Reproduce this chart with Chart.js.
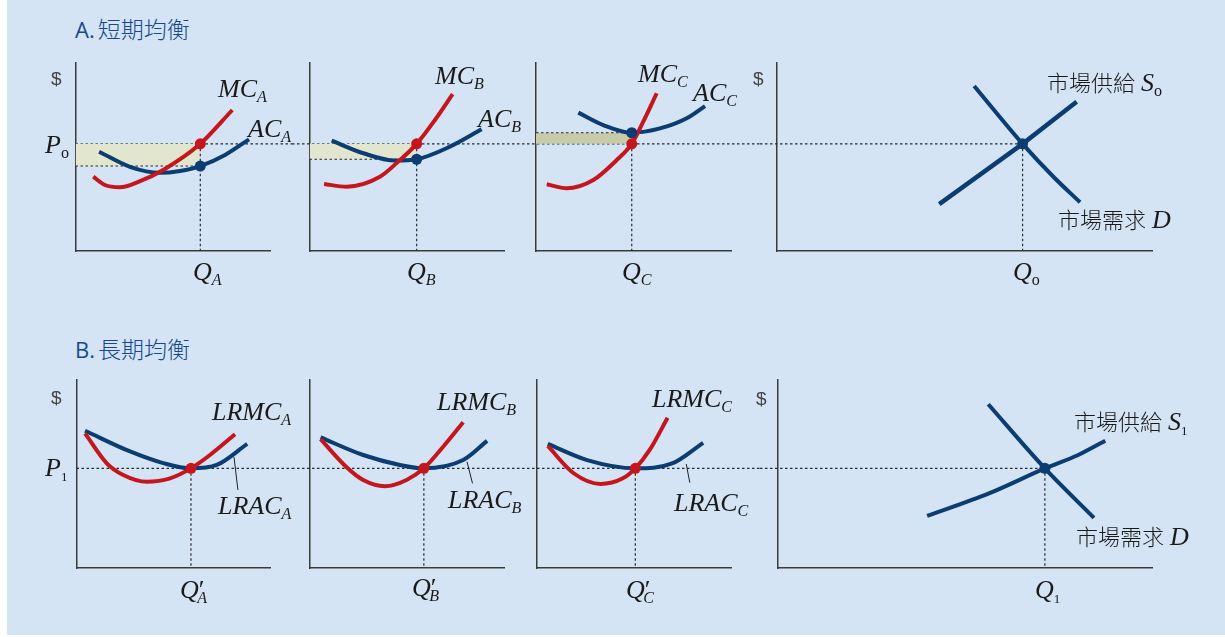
<!DOCTYPE html>
<html>
<head>
<meta charset="utf-8">
<title>短期均衡與長期均衡</title>
<script src="https://cdn.jsdelivr.net/npm/chart.js@4.4.1/dist/chart.umd.min.js"></script>
<style>
  html, body { margin: 0; padding: 0; background: #fff; }
  body { position: relative; width: 1225px; height: 637px; overflow: hidden; }
  #board { position: absolute; left: 7px; top: 0; width: 1218px; height: 635px; background: #d4e4f4; }
  .pane { position: absolute; }
  .pane canvas { display: block; }
  .colA { top: 50px; height: 212px; }
  .colB { top: 368px; height: 212px; }
  .c1 { left: 30px; width: 262px; }
  .c2 { left: 292px; width: 230px; }
  .c3 { left: 522px; width: 238px; }
  .c4 { left: 760px; width: 410px; }
  .title { position: absolute; left: 75px; font-family: "Open Sans", "Noto Sans", sans-serif; font-size: 22px; color: #17498a; line-height: 1; transform: translateY(-50%); white-space: nowrap; }
  .title .cjk { font-family: "Noto Sans CJK TC", sans-serif; font-weight: 300; font-size: 23px; margin-left: 3px; }
  .lbl { position: absolute; font-family: "Liberation Serif", "Times New Roman", serif; font-size: 26px; color: #1a1a1a; line-height: 1; transform: translateY(-50%); white-space: nowrap; }
  .lbl i { font-style: italic; }
  .lbl sub { font-size: 0.62em; vertical-align: -0.3em; line-height: 0; font-style: italic; }
  .lbl sub.u { font-style: normal; }
  .lbl sub.n { font-style: normal; font-size: 0.5em; vertical-align: -0.35em; }
  .lbl .pr { margin-right: -0.28em; }
  .lbl .cjk { font-family: "Noto Sans CJK TC", sans-serif; font-size: 22px; font-weight: 300; margin-right: 6px; }
  .dollar { position: absolute; font-family: "Liberation Sans Narrow", "Liberation Sans", sans-serif; font-size: 19px; color: #444; line-height: 1; transform: translateY(-50%); }
</style>
</head>
<body>
<div id="board"></div>

<div class="pane colA c1"><canvas id="a1"></canvas></div>
<div class="pane colA c2"><canvas id="a2"></canvas></div>
<div class="pane colA c3"><canvas id="a3"></canvas></div>
<div class="pane colA c4"><canvas id="a4"></canvas></div>
<div class="pane colB c1"><canvas id="b1"></canvas></div>
<div class="pane colB c2"><canvas id="b2"></canvas></div>
<div class="pane colB c3"><canvas id="b3"></canvas></div>
<div class="pane colB c4"><canvas id="b4"></canvas></div>

<div class="title" style="top:28px">A.<span class="cjk">短期均衡</span></div>
<div class="title" style="top:348px">B.<span class="cjk">長期均衡</span></div>

<div class="dollar" style="left:51px;top:78px">$</div>
<div class="dollar" style="left:753px;top:78px">$</div>
<div class="dollar" style="left:51px;top:397px">$</div>
<div class="dollar" style="left:756px;top:398px">$</div>

<div class="lbl" style="left:45px;top:145px"><i>P</i><sub class="u">o</sub></div>
<div class="lbl" style="left:218px;top:89px"><i>MC</i><sub>A</sub></div>
<div class="lbl" style="left:248px;top:129px"><i>AC</i><sub>A</sub></div>
<div class="lbl" style="left:193px;top:272px"><i>Q</i><sub>A</sub></div>
<div class="lbl" style="left:435px;top:76px"><i>MC</i><sub>B</sub></div>
<div class="lbl" style="left:478px;top:119px"><i>AC</i><sub>B</sub></div>
<div class="lbl" style="left:407px;top:272px"><i>Q</i><sub>B</sub></div>
<div class="lbl" style="left:638px;top:74px"><i>MC</i><sub>C</sub></div>
<div class="lbl" style="left:693px;top:93px"><i>AC</i><sub>C</sub></div>
<div class="lbl" style="left:622px;top:272px"><i>Q</i><sub>C</sub></div>
<div class="lbl" style="left:1047px;top:83px"><span class="cjk">市場供給</span><i>S</i><sub class="u">o</sub></div>
<div class="lbl" style="left:1058px;top:220px"><span class="cjk">市場需求</span><i>D</i></div>
<div class="lbl" style="left:1013px;top:272px"><i>Q</i><sub class="u">o</sub></div>

<div class="lbl" style="left:45px;top:468px"><i>P</i><sub class="n">1</sub></div>
<div class="lbl" style="left:212px;top:412px"><i>LRMC</i><sub>A</sub></div>
<div class="lbl" style="left:218px;top:506px"><i>LRAC</i><sub>A</sub></div>
<div class="lbl" style="left:180px;top:590px"><i>Q</i><span class="pr">′</span><sub>A</sub></div>
<div class="lbl" style="left:437px;top:402px"><i>LRMC</i><sub>B</sub></div>
<div class="lbl" style="left:448px;top:500px"><i>LRAC</i><sub>B</sub></div>
<div class="lbl" style="left:412px;top:588px"><i>Q</i><span class="pr">′</span><sub>B</sub></div>
<div class="lbl" style="left:652px;top:399px"><i>LRMC</i><sub>C</sub></div>
<div class="lbl" style="left:674px;top:503px"><i>LRAC</i><sub>C</sub></div>
<div class="lbl" style="left:626px;top:590px"><i>Q</i><span class="pr">′</span><sub>C</sub></div>
<div class="lbl" style="left:1074px;top:422px"><span class="cjk">市場供給</span><i>S</i><sub class="n">1</sub></div>
<div class="lbl" style="left:1076px;top:537px"><span class="cjk">市場需求</span><i>D</i></div>
<div class="lbl" style="left:1035px;top:590px"><i>Q</i><sub class="n">1</sub></div>

<script>
// ---- A. 短期均衡 (quantity 0-10, price 0-10 on every panel) ----
const priceP0 = 5.7;

const qA = 6.4;
const acLevelA = 4.52;
const mcA = [[0.91, 3.95], [1.51, 3.51], [2.28, 3.39], [3.31, 3.72], [4.5, 4.31], [6.4, 5.7], [8.04, 7.5]];
const acA = [[1.21, 5.28], [2.79, 4.48], [4.33, 4.16], [5.36, 4.26], [6.4, 4.52], [7.67, 5.11], [8.9, 5.94]];

const qB = 5.51;
const acLevelB = 4.88;
const mcB = [[0.75, 3.56], [1.91, 3.42], [3.62, 3.95], [4.65, 4.84], [5.51, 5.7], [6.45, 6.97], [7.36, 8.35]];
const acB = [[1.14, 5.87], [2.77, 5.2], [4.4, 4.81], [5.51, 4.88], [7.22, 5.55], [8.85, 6.47]];

const qC = 4.91;
const acLevelC = 6.29;
const mcC = [[0.55, 3.55], [1.57, 3.34], [2.94, 3.78], [4.14, 4.84], [4.91, 5.7], [5.5, 6.88], [6.19, 8.39]];
const acC = [[2.17, 7.36], [3.45, 6.7], [4.91, 6.29], [6.36, 6.52], [7.73, 7.06], [8.67, 7.71]];

const qMarket0 = 6.54;
const supply0 = [[4.32, 2.49], [6.54, 5.7], [7.98, 7.94]];
const demand0 = [[5.25, 8.78], [6.54, 5.7], [7.36, 3.95], [8.07, 2.59]];

// ---- B. 長期均衡 ----
const priceP1 = 5.3;

const qLA = 5.9;
const lracA = [[0.44, 7.3], [2.76, 6.2], [4.47, 5.58], [5.9, 5.3], [7.23, 5.48], [8.8, 6.6]];
const lrmcA = [[0.44, 7.16], [1.56, 5.57], [2.41, 4.95], [3.62, 4.59], [4.82, 4.77], [5.9, 5.3], [6.88, 6.01], [8.17, 7.11]];
const leaderA = [[8.12, 5.9], [8.32, 4.15]];

const qLB = 5.88;
const lracB = [[0.57, 6.95], [2.76, 6.01], [4.65, 5.48], [5.88, 5.3], [7.9, 5.74], [9.13, 6.76]];
const lrmcB = [[0.57, 6.85], [1.91, 5.36], [2.76, 4.68], [3.88, 4.35], [4.99, 4.68], [5.88, 5.3], [6.87, 6.45], [7.9, 7.75]];
const leaderB = [[8.1, 5.65], [8.38, 4.5]];

const qLC = 5.08;
const lracC = [[0.58, 6.6], [2.6, 5.74], [5.08, 5.3], [6.97, 5.56], [8.57, 6.66]];
const lrmcC = [[0.58, 6.49], [1.91, 5.04], [3.29, 4.47], [4.44, 4.77], [5.08, 5.3], [5.82, 6.28], [6.74, 7.99]];
const leaderC = [[7.7, 5.53], [7.88, 4.54]];

const qMarket1 = 7.13;
const supply1 = [[3.99, 2.77], [5.64, 3.97], [7.13, 5.3], [8.02, 6.01], [8.74, 6.77]];
const demand1 = [[5.62, 8.71], [7.13, 5.3], [8.44, 2.67]];

// 樣式
const RED = '#c4161c';
const BLUE = '#0b3d73';
const AXIS = '#3a3a3a';
const GUIDE = '#2a2a2a';
const SHADE_LIGHT = '#e3e6cf';
const SHADE_DARK = '#c8cba8';

const pts = arr => arr.map(([x, y]) => ({ x, y }));

function curve(arr, color) {
    return { data: pts(arr), borderColor: color, borderWidth: 4, pointRadius: 0,
             fill: false, cubicInterpolationMode: 'monotone' };
}
function straight(arr, color, width) {
    return { data: pts(arr), borderColor: color, borderWidth: width, pointRadius: 0,
             fill: false, tension: 0 };
}
function dot(x, y, color) {
    return { data: [{ x, y }], showLine: false, pointRadius: 5.5,
             pointBackgroundColor: color, pointBorderWidth: 0 };
}
function dashed(arr) {
    return { data: pts(arr), borderColor: GUIDE, borderWidth: 1.2, borderDash: [2.5, 2.5],
             pointRadius: 0, fill: false, tension: 0 };
}
function shade(q, top, bottom, color) {
    return { data: [{ x: 0, y: top }, { x: q, y: top }], borderWidth: 0, pointRadius: 0,
             backgroundColor: color, fill: { value: bottom }, tension: 0 };
}

// 價格虛線:穿過各圖之間的空隙
const priceLine = {
    id: 'priceLine',
    beforeDatasetsDraw(chart, args, o) {
        if (o.value == null) return;
        const { ctx, chartArea, scales } = chart;
        const y = scales.y.getPixelForValue(o.value);
        const x0 = o.fromAxis ? chartArea.left : 0;
        const x1 = o.toQ != null ? scales.x.getPixelForValue(o.toQ) : chart.width;
        ctx.save();
        ctx.strokeStyle = GUIDE;
        ctx.lineWidth = 1.2;
        ctx.setLineDash([2.5, 2.5]);
        ctx.beginPath();
        ctx.moveTo(x0, y);
        ctx.lineTo(x1, y);
        ctx.stroke();
        ctx.restore();
    }
};
Chart.register(priceLine);

function axis() {
    return { type: 'linear', min: 0, max: 10,
             ticks: { display: false },
             grid: { display: false, drawTicks: false },
             border: { display: true, color: AXIS, width: 1.5 } };
}

function makePanel(id, padding, datasets, line) {
    return new Chart(document.getElementById(id), {
        type: 'line',
        data: { datasets },
        options: {
            responsive: true,
            maintainAspectRatio: false,
            animation: false,
            events: [],
            layout: { padding },
            plugins: { legend: { display: false }, tooltip: { enabled: false }, priceLine: line },
            scales: { x: axis(), y: axis() }
        }
    });
}

// A. 短期均衡
makePanel('a1', { left: 45.5, right: 21.5, top: 13, bottom: 11 }, [
    dot(qA, priceP0, RED),
    dot(qA, acLevelA, BLUE),
    curve(mcA, RED),
    curve(acA, BLUE),
    dashed([[qA, priceP0], [qA, 0]]),
    dashed([[0, acLevelA], [qA, acLevelA]]),
    shade(qA, priceP0, acLevelA, SHADE_LIGHT)
], { value: priceP0, fromAxis: true });

makePanel('a2', { left: 17.5, right: 18, top: 13, bottom: 11 }, [
    dot(qB, priceP0, RED),
    dot(qB, acLevelB, BLUE),
    curve(mcB, RED),
    curve(acB, BLUE),
    dashed([[qB, priceP0], [qB, 0]]),
    dashed([[0, acLevelB], [qB, acLevelB]]),
    shade(qB, priceP0, acLevelB, SHADE_LIGHT)
], { value: priceP0 });

makePanel('a3', { left: 14, right: 29, top: 13, bottom: 11 }, [
    dot(qC, priceP0, RED),
    dot(qC, acLevelC, BLUE),
    curve(mcC, RED),
    curve(acC, BLUE),
    dashed([[qC, priceP0], [qC, 0]]),
    dashed([[0, acLevelC], [qC, acLevelC]]),
    shade(qC, acLevelC, priceP0, SHADE_DARK)
], { value: priceP0 });

makePanel('a4', { left: 17, right: 17.5, top: 13, bottom: 11 }, [
    dot(qMarket0, priceP0, BLUE),
    straight(supply0, BLUE, 4.5),
    curve(demand0, BLUE),
    dashed([[qMarket0, priceP0], [qMarket0, 0]])
], { value: priceP0, toQ: qMarket0 });

// B. 長期均衡
makePanel('b1', { left: 46.5, right: 21.5, top: 12, bottom: 12 }, [
    dot(qLA, priceP1, RED),
    curve(lrmcA, RED),
    curve(lracA, BLUE),
    straight(leaderA, '#222', 1),
    dashed([[qLA, priceP1], [qLA, 0]])
], { value: priceP1, fromAxis: true });

makePanel('b2', { left: 17.5, right: 18, top: 12, bottom: 12 }, [
    dot(qLB, priceP1, RED),
    curve(lrmcB, RED),
    curve(lracB, BLUE),
    straight(leaderB, '#222', 1),
    dashed([[qLB, priceP1], [qLB, 0]])
], { value: priceP1 });

makePanel('b3', { left: 14.5, right: 29, top: 12, bottom: 12 }, [
    dot(qLC, priceP1, RED),
    curve(lrmcC, RED),
    curve(lracC, BLUE),
    straight(leaderC, '#222', 1),
    dashed([[qLC, priceP1], [qLC, 0]])
], { value: priceP1 });

makePanel('b4', { left: 17.5, right: 17.5, top: 12, bottom: 12 }, [
    dot(qMarket1, priceP1, BLUE),
    curve(supply1, BLUE),
    curve(demand1, BLUE),
    dashed([[qMarket1, priceP1], [qMarket1, 0]])
], { value: priceP1, toQ: qMarket1 });
</script>
</body>
</html>
